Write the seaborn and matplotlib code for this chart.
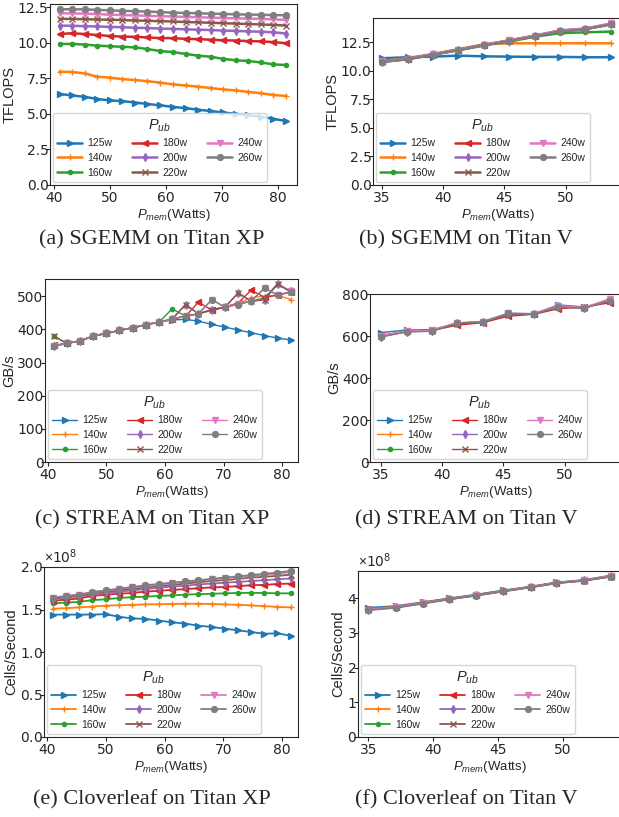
import numpy as np
import pandas as pd
import matplotlib
matplotlib.use("Agg")
import matplotlib.pyplot as plt
from matplotlib.ticker import ScalarFormatter
import seaborn as sns

# power caps and their markers
pub = ["125w", "140w", "160w", "180w", "200w", "220w", "240w", "260w"]
markers = [">", "+", ".", "<", "d", "x", "v", "o"]

# memory power settings (Watts)
pmem_xp = [41.0, 43.2, 45.5, 47.7, 50.0, 52.2, 54.5, 56.7, 59.0, 61.2,
           63.5, 65.7, 68.0, 70.2, 72.5, 74.7, 77.0, 79.2, 81.5]
pmem_v = [35.0, 37.1, 39.2, 41.2, 43.3, 45.4, 47.5, 49.5, 51.6, 53.7]

# (a) SGEMM on Titan XP, TFLOPS
sgemm_xp = {
    "125w": [6.4, 6.3, 6.2, 6.05, 5.95, 5.9, 5.8, 5.7, 5.6, 5.5, 5.4, 5.3, 5.2, 5.1, 5.0, 4.9, 4.8, 4.65, 4.5],
    "140w": [7.97, 7.95, 7.85, 7.62, 7.55, 7.45, 7.38, 7.3, 7.2, 7.08, 7.0, 6.92, 6.82, 6.72, 6.65, 6.55, 6.45, 6.33, 6.26],
    "160w": [9.92, 9.92, 9.88, 9.8, 9.76, 9.72, 9.68, 9.56, 9.42, 9.35, 9.22, 9.1, 9.02, 8.87, 8.77, 8.72, 8.62, 8.48, 8.44],
    "180w": [10.62, 10.67, 10.62, 10.55, 10.48, 10.44, 10.42, 10.38, 10.33, 10.33, 10.28, 10.26, 10.22, 10.18, 10.16, 10.12, 10.1, 10.05, 9.97],
    "200w": [11.21, 11.2, 11.17, 11.15, 11.12, 11.1, 11.06, 11.04, 11.0, 10.98, 10.95, 10.92, 10.9, 10.86, 10.84, 10.8, 10.78, 10.74, 10.65],
    "220w": [11.68, 11.68, 11.66, 11.64, 11.62, 11.6, 11.57, 11.55, 11.52, 11.5, 11.46, 11.44, 11.41, 11.38, 11.35, 11.32, 11.29, 11.26, 11.21],
    "240w": [12.08, 12.07, 12.05, 12.02, 11.98, 11.95, 11.93, 11.9, 11.87, 11.85, 11.82, 11.8, 11.77, 11.74, 11.72, 11.7, 11.68, 11.65, 11.61],
    "260w": [12.36, 12.36, 12.35, 12.32, 12.28, 12.25, 12.22, 12.2, 12.16, 12.12, 12.1, 12.08, 12.05, 12.03, 12.0, 11.99, 11.97, 11.95, 11.94],
}

# (b) SGEMM on Titan V, TFLOPS
sgemm_v = {
    "125w": [11.08, 11.17, 11.22, 11.31, 11.25, 11.22, 11.2, 11.2, 11.17, 11.17],
    "140w": [10.85, 11.08, 11.46, 11.87, 12.3, 12.39, 12.39, 12.39, 12.39, 12.39],
    "160w": [10.8, 11.04, 11.44, 11.83, 12.26, 12.54, 12.97, 13.27, 13.35, 13.41],
    "180w": [10.8, 11.02, 11.43, 11.81, 12.24, 12.65, 13.05, 13.48, 13.65, 14.08],
    "200w": [10.79, 11.02, 11.43, 11.81, 12.24, 12.63, 13.06, 13.5, 13.66, 14.1],
    "220w": [10.76, 11.0, 11.4, 11.78, 12.21, 12.6, 13.0, 13.44, 13.62, 14.05],
    "240w": [10.8, 11.03, 11.44, 11.82, 12.25, 12.64, 13.06, 13.5, 13.68, 14.12],
    "260w": [10.76, 11.0, 11.4, 11.78, 12.2, 12.59, 13.0, 13.44, 13.62, 14.05],
}

# (c) STREAM on Titan XP, GB/s
stream_xp = {
    "125w": [350, 358, 365, 380, 388, 397, 405, 414, 422, 429, 430, 425, 415, 407, 398, 390, 381, 374, 368],
    "140w": [350, 358, 365, 380, 388, 397, 405, 414, 422, 431, 440, 447, 458, 467, 478, 496, 500, 503, 490],
    "160w": [380, 358, 365, 380, 388, 397, 405, 414, 422, 462, 440, 447, 458, 467, 478, 485, 495, 537, 513],
    "180w": [352, 358, 365, 380, 388, 397, 405, 414, 422, 431, 440, 482, 458, 467, 480, 518, 497, 503, 513],
    "200w": [349, 358, 365, 380, 388, 397, 405, 414, 422, 431, 475, 447, 460, 467, 510, 485, 490, 537, 515],
    "220w": [380, 358, 365, 380, 388, 397, 405, 414, 422, 431, 475, 447, 460, 467, 510, 485, 490, 537, 513],
    "240w": [350, 358, 365, 380, 388, 397, 405, 414, 422, 431, 440, 447, 490, 467, 477, 485, 525, 503, 515],
    "260w": [349, 358, 365, 380, 388, 397, 405, 414, 422, 431, 440, 447, 490, 467, 475, 485, 525, 503, 513],
}

# (d) STREAM on Titan V, GB/s
stream_v = {
    "125w": [618, 630, 632, 663, 670, 710, 708, 750, 740, 768],
    "140w": [602, 625, 628, 662, 670, 706, 708, 745, 737, 775],
    "160w": [600, 623, 627, 661, 668, 705, 707, 742, 735, 770],
    "180w": [605, 624, 628, 653, 665, 696, 705, 732, 740, 760],
    "200w": [598, 622, 626, 662, 668, 706, 708, 743, 735, 772],
    "220w": [600, 623, 627, 660, 667, 704, 706, 740, 735, 770],
    "240w": [603, 626, 629, 664, 670, 709, 708, 746, 737, 780],
    "260w": [597, 621, 624, 664, 669, 709, 707, 740, 734, 770],
}

# (e) Cloverleaf on Titan XP, cells/second (x1e8)
clover_xp = {
    "125w": [1.44, 1.44, 1.44, 1.44, 1.445, 1.415, 1.395, 1.39, 1.37, 1.35, 1.335, 1.31, 1.295, 1.275, 1.255, 1.235, 1.215, 1.22, 1.19],
    "140w": [1.51, 1.515, 1.525, 1.535, 1.545, 1.55, 1.555, 1.56, 1.562, 1.565, 1.568, 1.568, 1.565, 1.56, 1.555, 1.548, 1.54, 1.53, 1.525],
    "160w": [1.575, 1.58, 1.59, 1.61, 1.62, 1.635, 1.645, 1.65, 1.66, 1.665, 1.675, 1.68, 1.685, 1.69, 1.695, 1.695, 1.695, 1.69, 1.69],
    "180w": [1.605, 1.615, 1.63, 1.66, 1.675, 1.685, 1.695, 1.71, 1.72, 1.73, 1.74, 1.75, 1.76, 1.765, 1.775, 1.785, 1.79, 1.8, 1.805],
    "200w": [1.625, 1.64, 1.655, 1.68, 1.695, 1.71, 1.725, 1.74, 1.755, 1.77, 1.78, 1.795, 1.805, 1.815, 1.825, 1.835, 1.845, 1.855, 1.865],
    "220w": [1.63, 1.65, 1.665, 1.69, 1.71, 1.725, 1.745, 1.76, 1.775, 1.79, 1.805, 1.82, 1.835, 1.845, 1.86, 1.875, 1.885, 1.895, 1.91],
    "240w": [1.64, 1.66, 1.675, 1.7, 1.72, 1.74, 1.76, 1.775, 1.79, 1.81, 1.825, 1.84, 1.855, 1.87, 1.88, 1.895, 1.91, 1.92, 1.94],
    "260w": [1.635, 1.655, 1.675, 1.705, 1.725, 1.745, 1.765, 1.785, 1.8, 1.815, 1.83, 1.845, 1.86, 1.875, 1.89, 1.905, 1.92, 1.935, 1.955],
}

# (f) Cloverleaf on Titan V, cells/second (x1e8)
clover_v = {
    "125w": [3.72, 3.77, 3.88, 3.99, 4.10, 4.22, 4.33, 4.45, 4.52, 4.65],
    "140w": [3.69, 3.75, 3.87, 3.98, 4.09, 4.21, 4.32, 4.44, 4.51, 4.64],
    "160w": [3.68, 3.75, 3.87, 3.98, 4.09, 4.21, 4.32, 4.44, 4.51, 4.63],
    "180w": [3.68, 3.74, 3.86, 3.97, 4.08, 4.2, 4.32, 4.44, 4.51, 4.63],
    "200w": [3.67, 3.74, 3.86, 3.97, 4.08, 4.2, 4.32, 4.44, 4.51, 4.63],
    "220w": [3.67, 3.73, 3.85, 3.97, 4.08, 4.2, 4.31, 4.43, 4.5, 4.62],
    "240w": [3.67, 3.74, 3.86, 3.97, 4.08, 4.2, 4.32, 4.44, 4.51, 4.64],
    "260w": [3.65, 3.72, 3.84, 3.96, 4.07, 4.19, 4.31, 4.43, 4.5, 4.62],
}

sns.set_style("ticks")
plt.rcParams["font.family"] = ["DejaVu Sans"]
plt.rcParams["mathtext.fontset"] = "custom"
plt.rcParams["mathtext.rm"] = "Liberation Sans"
plt.rcParams["mathtext.it"] = "Liberation Sans:italic"

W, H = 619, 817
fig = plt.figure(figsize=(W / 100, H / 100), dpi=100)
palette = sns.color_palette("tab10", 8)
SANS = "Liberation Sans"


def make_ax(left, right, top, bottom):
    return fig.add_axes([left / W, 1 - bottom / H, (right - left) / W, (bottom - top) / H])


def draw(ax, x, series, ylabel, xlim, ylim, lw, scale=1.0):
    for p, m, c in zip(pub, markers, palette):
        y = np.array(series[p]) * scale
        ms = 6 if m == "." else 4.2
        sns.lineplot(x=x, y=y, color=c, marker=m, label=p, linewidth=lw,
                     markersize=ms, markeredgewidth=1.0, markeredgecolor=c,
                     ax=ax)
    ax.set_xlim(*xlim)
    ax.set_ylim(*ylim)
    ax.set_ylabel(ylabel, fontsize=10.5, family=SANS, labelpad=1)
    ax.set_xlabel("$P_{mem}$(Watts)", fontsize=9.5, family=SANS, labelpad=1)
    ax.tick_params(labelsize=10, length=3, pad=1.5)
    ax.tick_params(axis="y", pad=-2)
    leg = ax.legend(title="$P_{ub}$", ncol=3, loc="lower left",
                    prop={"family": SANS, "size": 7.5},
                    title_fontsize=10.5, handlelength=2.4, handletextpad=0.5,
                    columnspacing=1.9, labelspacing=0.45, borderaxespad=0.3)
    return leg


ax = make_ax(50, 297, 4, 185)
draw(ax, pmem_xp, sgemm_xp, "TFLOPS", (39.3, 83.4), (0, 12.73), 1.8)
ax.set_yticks([0, 2.5, 5, 7.5, 10, 12.5])

ax = make_ax(373, 622, 18, 185)
draw(ax, pmem_v, sgemm_v, "TFLOPS", (34.26, 54.6), (0, 14.6), 1.8)
ax.set_yticks([0, 2.5, 5, 7.5, 10, 12.5])
ax.set_xticks([35, 40, 45, 50])

ax = make_ax(45, 298, 279, 462)
draw(ax, pmem_xp, stream_xp, "GB/s", (39.5, 82.7), (0, 552), 1.0)

ax = make_ax(370, 622, 294, 462)
draw(ax, pmem_v, stream_v, "GB/s", (34.1, 54.7), (0, 802), 1.0)
ax.set_xticks([35, 40, 45, 50])

for left, right, top, bottom, x, data, xlim, ylim in [
    (44, 298, 567, 737, pmem_xp, clover_xp, (39.5, 82.7), (0, 2.0e8)),
    (358, 622, 571, 737, pmem_v, clover_v, (34.2, 54.55), (0, 4.78e8)),
]:
    ax = make_ax(left, right, top, bottom)
    draw(ax, x, data, "Cells/Second", xlim, ylim, 1.3, 1e8)
    fmt = ScalarFormatter(useMathText=True)
    fmt.set_powerlimits((0, 0))
    ax.yaxis.set_major_formatter(fmt)
    ax.yaxis.get_offset_text().set_fontsize(10)
    if x is pmem_v:
        ax.set_xticks([35, 40, 45, 50])

captions = [
    (152, 240, "(a) SGEMM on Titan XP"), (466, 240, "(b) SGEMM on Titan V"),
    (152, 520, "(c) STREAM on Titan XP"), (466, 520, "(d) STREAM on Titan V"),
    (152, 800, "(e) Cloverleaf on Titan XP"), (466, 800, "(f) Cloverleaf on Titan V"),
]
for cx, cy, txt in captions:
    fig.text(cx / W, 1 - cy / H, txt, ha="center", va="center",
             fontsize=16, family="Liberation Serif")

fig.savefig("out.png", dpi=100)
